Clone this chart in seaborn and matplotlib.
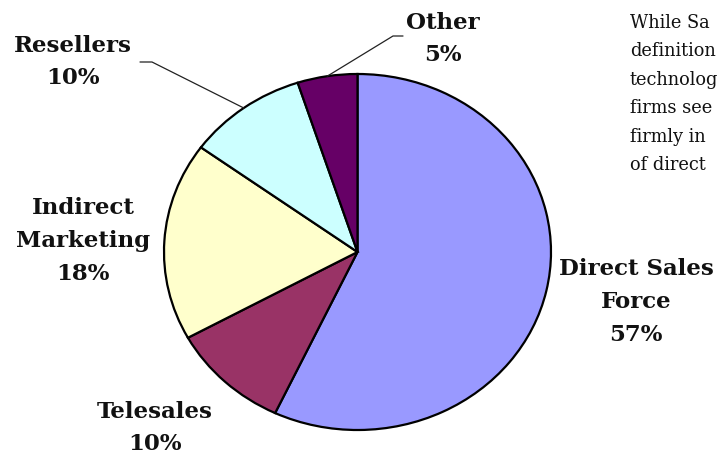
import numpy as np
import matplotlib
matplotlib.use("Agg")
import matplotlib.pyplot as plt
import seaborn as sns

# ---- data ----
categories = ["Direct Sales\nForce", "Telesales", "Indirect\nMarketing", "Resellers", "Other"]
shares = [57, 10, 18, 10, 5]
colors = ["#9999FF", "#993366", "#FFFFCC", "#CCFFFF", "#660066"]
side_text = ["While Sa", "definition", "technolog", "firms see", "firmly in", "of direct"]

sns.set_theme(style="white")
plt.rcParams["font.family"] = ["DejaVu Serif"]

W, H = 719, 462
fig = plt.figure(figsize=(W / 100, H / 100), dpi=100)
ax = fig.add_axes([0, 0, 1, 1])

wedges, _ = ax.pie(shares, colors=colors, startangle=90, counterclock=False,
                   wedgeprops=dict(edgecolor="black", linewidth=1.6))

# elliptical pie: pixel geometry
cx, cy, a, b = 357.5, 252.0, 193.5, 178.0
ax.set_aspect("auto")
ax.set_xlim(-cx / a, (W - cx) / a)
ax.set_ylim(-(H - cy) / b, cy / b)
ax.axis("off")


def px(x, y):
    return ((x - cx) / a, (cy - y) / b)


labels = [f"{c}\n{v}%" for c, v in zip(categories, shares)]
label_pos = [(636, 302), (155, 428), (83, 241), (73, 62), (443, 39)]
for lab, (x, y) in zip(labels, label_pos):
    ax.text(*px(x, y), lab, ha="center", va="center", fontsize=16.5,
            fontweight="bold", linespacing=1.62, color="#111111")

# leader lines for the small top slices (Resellers, Other)
elbows = {3: [(140, 62), (152, 62)], 4: [(403, 36), (393, 36)]}
for i, pts in elbows.items():
    w = wedges[i]
    ang = np.deg2rad((w.theta1 + w.theta2) / 2)
    ex, ey = np.cos(ang), np.sin(ang)
    xs = [px(*p)[0] for p in pts] + [ex]
    ys = [px(*p)[1] for p in pts] + [ey]
    ax.plot(xs, ys, color="#222222", lw=0.9)

for k, line in enumerate(side_text):
    fig.text(630 / W, 1 - (28 + 28.4 * k) / H, line, ha="left", va="baseline",
             fontsize=12.8, color="#111111")

fig.savefig("out.png", dpi=100)
